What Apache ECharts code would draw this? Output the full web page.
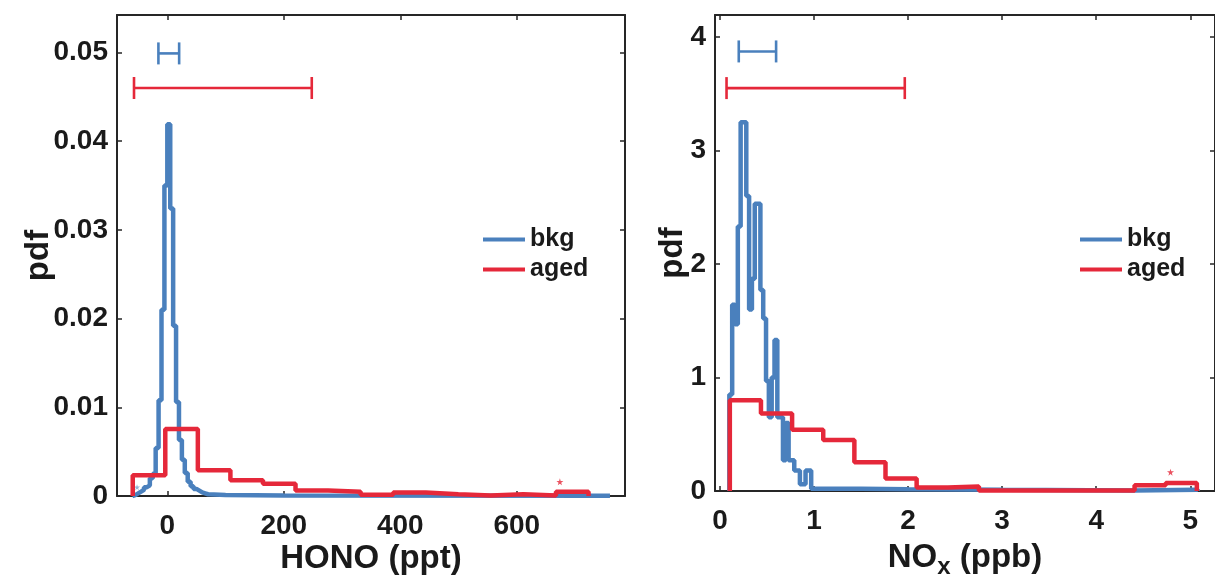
<!DOCTYPE html>
<html>
<head>
<meta charset="utf-8">
<script src="https://cdn.jsdelivr.net/npm/echarts@6/dist/echarts.min.js"></script>
<style>
html,body{margin:0;padding:0;background:#fff;}
#chart{width:1215px;height:584px;}
</style>
</head>
<body>
<div id="chart"></div>
<script>
// ---------------- data ----------------
// HONO (ppt) panel
const honoBkgEdges = [-60,-55,-50,-45,-40,-35,-30,-25,-20,-15,-10,-5,0,5,10,15,20,25,30,35,40,45,50,55,60,65,70,100,200,760];
const honoBkgPdf = [0.0001,0.0003,0.0005,0.0007,0.0010,0.0012,0.0020,0.0025,0.0054,0.0108,0.0210,0.0350,0.0419,0.0324,0.0192,0.0106,0.0063,0.0041,0.0026,0.0016,0.0011,0.0008,0.0006,0.0004,0.0003,0.0002,0.00012,0.00005,0.00003];
const honoAgedEdges = [-59.4,-3.5,52.4,108.3,164.2,220.1,276.0,331.9,387.8,443.7,499.6,555.5,611.4,667.3,723.2];
const honoAgedPdf = [0.00234,0.00755,0.0029,0.00178,0.00137,0.00062,0.00047,0.00013,0.0004,0.0002,0.00005,0.0002,0.00005,0.00049];
const honoRangeBkg = [-15.3, 20.3, 0.0499];
const honoRangeAged = [-57.2, 248, 0.0460];
const honoStarsAged = [[674, 0.0016]];
const honoStarsBkg = [[-52, 0.0010]];
const honoXTicks = [0, 200, 400, 600];
const honoYTicks = [0, 0.01, 0.02, 0.03, 0.04, 0.05];

// NOx (ppb) panel
const noxBkgEdges = [0.10,0.13,0.16,0.19,0.22,0.25,0.28,0.31,0.34,0.37,0.40,0.43,0.46,0.49,0.52,0.55,0.58,0.61,0.64,0.67,0.70,0.73,0.76,0.79,0.82,0.85,0.88,0.91,0.94,0.97,1.00,1.50,2.00,3.00,4.40,5.08];
const noxBkgPdf = [0.85,1.64,1.47,2.33,3.25,3.25,2.60,1.60,1.87,2.53,2.53,1.77,1.52,0.97,0.65,1.00,1.33,0.65,0.65,0.27,0.60,0.27,0.27,0.18,0.18,0.06,0.06,0.18,0.18,0.02,0.02,0.015,0.01,0.005,0.012];
const noxAgedEdges = [0.105,0.436,0.767,1.098,1.429,1.760,2.091,2.422,2.753,3.084,3.415,3.746,4.077,4.408,4.739,5.070];
const noxAgedPdf = [0.80,0.683,0.54,0.45,0.254,0.11,0.03,0.04,0.005,0.005,0.005,0.005,0.005,0.05,0.07];
const noxRangeBkg = [0.20, 0.597, 3.873];
const noxRangeAged = [0.07, 1.965, 3.55];
const noxStarsAged = [[4.79, 0.166]];
const noxXTicks = [0, 1, 2, 3, 4, 5];
const noxYTicks = [0, 1, 2, 3, 4];

const seriesNames = ['bkg', 'aged'];

// ---------------- helpers ----------------
const BLUE = '#4a80bd';
const RED = '#e5283a';
const FONT = '"Liberation Sans", Arial, Helvetica, sans-serif';
const AXC = '#262626';
const LW = 4.5;

function stairs(edges, vals) {
  const pts = [[edges[0], 0]];
  for (let i = 0; i < vals.length; i++) {
    pts.push([edges[i], vals[i]]);
    pts.push([edges[i + 1], vals[i]]);
  }
  pts.push([edges[edges.length - 1], 0]);
  return pts;
}

function errRender(params, api) {
  const a = api.coord([api.value(0), api.value(2)]);
  const b = api.coord([api.value(1), api.value(2)]);
  const h = 11;
  const style = { stroke: api.visual('color'), lineWidth: 2.6, fill: null };
  return {
    type: 'group',
    children: [
      { type: 'line', shape: { x1: a[0], y1: a[1], x2: b[0], y2: b[1] }, style },
      { type: 'line', shape: { x1: a[0], y1: a[1] - h, x2: a[0], y2: a[1] + h }, style },
      { type: 'line', shape: { x1: b[0], y1: b[1] - h, x2: b[0], y2: b[1] + h }, style }
    ]
  };
}

const STAR = 'path://M50,0 L61,35 L98,35 L68,57 L79,91 L50,70 L21,91 L32,57 L2,35 L39,35 Z';

function axisBase(extra) {
  return Object.assign({
    type: 'value',
    splitLine: { show: false },
    nameMoveOverlap: false,
    axisLine: { show: true, onZero: false, lineStyle: { color: AXC, width: 2 } },
    axisTick: { show: true, inside: true, length: 5, lineStyle: { color: AXC, width: 1.5 } }
  }, extra);
}
function ticks(vals) {
  return { show: true, inside: true, length: 5, customValues: vals, lineStyle: { color: AXC, width: 1.5 } };
}

const tickFont = { fontFamily: FONT, fontWeight: 'bold', fontSize: 28, color: '#1a1a1a' };
const nameFont = { fontFamily: FONT, fontWeight: 'bold', fontSize: 33, color: '#1a1a1a' };
const legendText = { fontFamily: FONT, fontWeight: 'bold', fontSize: 25, lineHeight: 25, color: '#1a1a1a' };

const option = {
  animation: false,
  backgroundColor: '#ffffff',
  grid: [
    { left: 117, top: 15, width: 508, height: 481 },
    { left: 715, top: 15, width: 505, height: 479 }
  ],
  xAxis: [
    axisBase({ gridIndex: 0, position: 'bottom', min: -86.4, max: 785.8, axisTick: ticks(honoXTicks),
      axisLabel: { customValues: honoXTicks, margin: 16, ...tickFont },
      name: 'HONO (ppt)', nameLocation: 'middle', nameGap: 46, nameTextStyle: nameFont }),
    axisBase({ gridIndex: 0, position: 'top', min: -86.4, max: 785.8, axisTick: ticks(honoXTicks),
      axisLabel: { show: false } }),
    axisBase({ gridIndex: 1, position: 'bottom', min: -0.0526, max: 5.263, axisTick: ticks(noxXTicks),
      axisLabel: { customValues: noxXTicks, margin: 16, ...tickFont },
      name: 'NO{sub|x} (ppb)', nameLocation: 'middle', nameGap: 46,
      nameTextStyle: Object.assign({}, nameFont, { rich: { sub: { fontFamily: FONT, fontWeight: 'bold', fontSize: 24, color: '#1a1a1a', verticalAlign: 'bottom', padding: [18, 0, 0, 0] } } }) }),
    axisBase({ gridIndex: 1, position: 'top', min: -0.0526, max: 5.263, axisTick: ticks(noxXTicks),
      axisLabel: { show: false } })
  ],
  yAxis: [
    axisBase({ gridIndex: 0, position: 'left', min: 0, max: 0.05423, axisTick: ticks(honoYTicks),
      axisLabel: { customValues: honoYTicks, margin: 9, ...tickFont, formatter: v => (v === 0 ? '0' : v.toFixed(2)) },
      name: 'pdf', nameLocation: 'middle', nameGap: 62, nameTextStyle: nameFont }),
    axisBase({ gridIndex: 0, position: 'right', min: 0, max: 0.05423, axisTick: ticks(honoYTicks),
      axisLabel: { show: false } }),
    axisBase({ gridIndex: 1, position: 'left', min: 0, max: 4.194, axisTick: ticks(noxYTicks),
      axisLabel: { customValues: noxYTicks, margin: 9, ...tickFont },
      name: 'pdf', nameLocation: 'middle', nameGap: 26, nameTextStyle: nameFont }),
    axisBase({ gridIndex: 1, position: 'right', min: 0, max: 4.194, axisTick: ticks(noxYTicks),
      axisLabel: { show: false } })
  ],
  legend: [
    { left: 483, top: 227, padding: 0, orient: 'vertical', data: seriesNames, icon: 'rect',
      itemWidth: 42, itemHeight: 4, itemGap: 5, textStyle: legendText },
    { left: 1080, top: 227, padding: 0, orient: 'vertical', data: seriesNames, icon: 'rect',
      itemWidth: 42, itemHeight: 4, itemGap: 5, textStyle: legendText }
  ],
  series: [
    { name: seriesNames[0], type: 'line', xAxisIndex: 0, yAxisIndex: 0, data: stairs(honoBkgEdges, honoBkgPdf),
      symbol: 'none', color: BLUE, lineStyle: { color: BLUE, width: LW }, z: 3 },
    { name: seriesNames[1], type: 'line', xAxisIndex: 0, yAxisIndex: 0, data: stairs(honoAgedEdges, honoAgedPdf),
      symbol: 'none', color: RED, lineStyle: { color: RED, width: LW }, z: 4 },
    { name: seriesNames[0], type: 'line', xAxisIndex: 2, yAxisIndex: 2, data: stairs(noxBkgEdges, noxBkgPdf),
      symbol: 'none', color: BLUE, lineStyle: { color: BLUE, width: LW }, z: 3 },
    { name: seriesNames[1], type: 'line', xAxisIndex: 2, yAxisIndex: 2, data: stairs(noxAgedEdges, noxAgedPdf),
      symbol: 'none', color: RED, lineStyle: { color: RED, width: LW }, z: 4 },
    { type: 'custom', xAxisIndex: 0, yAxisIndex: 0, renderItem: errRender, data: [honoRangeBkg], itemStyle: { color: BLUE }, z: 5 },
    { type: 'custom', xAxisIndex: 0, yAxisIndex: 0, renderItem: errRender, data: [honoRangeAged], itemStyle: { color: RED }, z: 5 },
    { type: 'custom', xAxisIndex: 2, yAxisIndex: 2, renderItem: errRender, data: [noxRangeBkg], itemStyle: { color: BLUE }, z: 5 },
    { type: 'custom', xAxisIndex: 2, yAxisIndex: 2, renderItem: errRender, data: [noxRangeAged], itemStyle: { color: RED }, z: 5 },
    { type: 'scatter', xAxisIndex: 0, yAxisIndex: 0, data: honoStarsAged, symbol: STAR, symbolSize: 7, itemStyle: { color: RED }, z: 6 },
    { type: 'scatter', xAxisIndex: 0, yAxisIndex: 0, data: honoStarsBkg, symbol: STAR, symbolSize: 6, itemStyle: { color: BLUE, opacity: 0.6 }, z: 2 },
    { type: 'scatter', xAxisIndex: 2, yAxisIndex: 2, data: noxStarsAged, symbol: STAR, symbolSize: 7, itemStyle: { color: RED }, z: 6 }
  ]
};

const chart = echarts.init(document.getElementById('chart'), null, { renderer: 'canvas' });
chart.setOption(option);
</script>
</body>
</html>
